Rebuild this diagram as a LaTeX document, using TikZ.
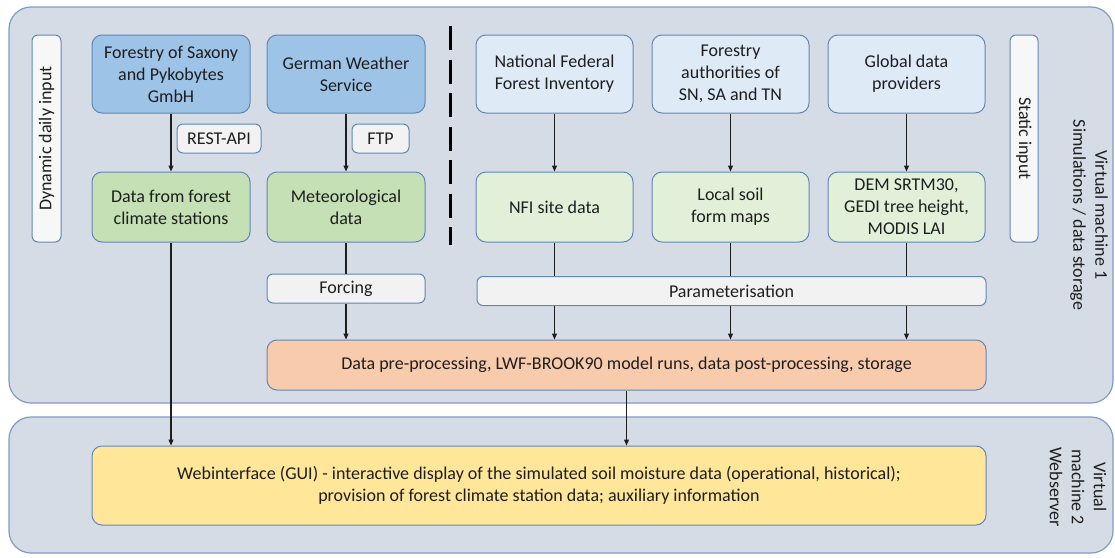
\documentclass[tikz,border=0pt]{standalone}
\usepackage{fontspec}
\setmainfont{Carlito}
\usetikzlibrary{arrows.meta}

\definecolor{panelfill}{HTML}{D6DCE5}
\definecolor{panelline}{HTML}{7F9DC4}
\definecolor{boxline}{HTML}{5F88B8}
\definecolor{bluefill}{HTML}{9DC3E6}
\definecolor{lbluefill}{HTML}{DEEBF7}
\definecolor{greenfill}{HTML}{C5E0B4}
\definecolor{lgreenfill}{HTML}{E2F0D9}
\definecolor{grayfill}{HTML}{F2F2F2}
\definecolor{orangefill}{HTML}{F8CBAD}
\definecolor{yellowfill}{HTML}{FFE699}
\definecolor{txt}{HTML}{1E1E1E}

\tikzset{
  every node/.style={font=\fontsize{18}{22}\selectfont, text=txt, inner sep=0pt, align=center},
  panel/.style={draw=panelline, fill=panelfill, line width=1.2pt, rounded corners=22pt},
  box/.style={draw=boxline, line width=1pt, rounded corners=10pt},
  tagbox/.style={box, fill=grayfill, rounded corners=6pt},
  sidebox/.style={box, fill=grayfill!60!white, rounded corners=6pt},
  arr/.style={line width=1.2pt, draw=txt, -{Triangle[length=6pt,width=5pt]}},
  plain/.style={line width=1.2pt, draw=txt},
}

\begin{document}
\begin{tikzpicture}[x=1pt,y=-1pt]
\useasboundingbox (0,0) rectangle (1115,557);

% machine panels
\node[panel, minimum width=1104, minimum height=396] (vm1) at (561,205) {};
\node[panel, minimum width=1104, minimum height=136] (vm2) at (561,485) {};
\node[rotate=-90] (vm1lab) at (1089,215) {Virtual machine 1\\Simulations / data storage};
\node[rotate=-90] (vm2lab) at (1078,487) {Virtual\\machine 2\\Webserver};

% side labels
\node[sidebox, rotate=90, minimum width=207, minimum height=29] (dyn) at (46.5,138.5) {Dynamic daily input};
\node[sidebox, rotate=-90, minimum width=207, minimum height=28] (static) at (1024,138.5) {Static input};

% separator between dynamic and static inputs
\coordinate (sepTop) at (450,26);
\coordinate (sepBot) at (450,245);
\draw[line width=3pt, dash pattern=on 24pt off 9.5pt] (sepTop) -- (sepBot);

% dynamic providers
\node[box, fill=bluefill, minimum width=158, minimum height=78] (fs) at (171,74) {Forestry of Saxony\\and Pykobytes\\GmbH};
\node[box, fill=bluefill, minimum width=158, minimum height=78] (dwd) at (346,74) {German Weather\\Service};
\node[box, fill=greenfill, minimum width=158, minimum height=70] (fcs) at (171,207) {Data from forest\\climate stations};
\node[box, fill=greenfill, minimum width=158, minimum height=70] (met) at (346,207) {Meteorological\\data};
\node[tagbox, minimum width=84, minimum height=29] (rest) at (219,138.5) {REST-API};
\node[tagbox, minimum width=57, minimum height=29] (ftp) at (380.5,138.5) {FTP};

% static providers
\node[box, fill=lbluefill, minimum width=157, minimum height=78] (nffi) at (554.5,74) {National Federal\\Forest Inventory};
\node[box, fill=lbluefill, minimum width=157, minimum height=78] (fauth) at (730.5,74) {Forestry\\authorities of\\SN, SA and TN};
\node[box, fill=lbluefill, minimum width=157, minimum height=78] (glob) at (906.5,74) {Global data\\providers};
\node[box, fill=lgreenfill, minimum width=157, minimum height=70] (nfi) at (554.5,207) {NFI site data};
\node[box, fill=lgreenfill, minimum width=157, minimum height=70] (soil) at (730.5,207) {Local soil\\form maps};
\node[box, fill=lgreenfill, minimum width=157, minimum height=70] (dem) at (906.5,207) {DEM SRTM30,\\GEDI tree height,\\MODIS LAI};

% model inputs and processing
\node[tagbox, minimum width=158, minimum height=29] (forc) at (346,288.5) {Forcing};
\node[tagbox, minimum width=509, minimum height=29] (param) at (731.5,291) {Parameterisation};
\node[box, fill=orangefill, minimum width=719, minimum height=50] (proc) at (626.5,365) {Data pre-processing, LWF-BROOK90 model runs, data post-processing, storage};
\node[box, fill=yellowfill, minimum width=894, minimum height=79] (gui) at (539,485.5) {Webinterface (GUI) - interactive display of the simulated soil moisture data (operational, historical);\\provision of forest climate station data; auxiliary information};

% connectors
\draw[arr] (fs) -- (fcs);
\draw[arr] (dwd) -- (met);
\draw[arr] (nffi) -- (nfi);
\draw[arr] (fauth) -- (soil);
\draw[arr] (glob) -- (dem);

\draw[plain] (met) -- (forc);
\draw[arr] (forc) -- (forc.south |- proc.north);
\foreach \n in {nfi,soil,dem}{
  \draw[plain] (\n.south) -- (\n.south |- param.north);
  \draw[arr] (\n.south |- param.south) -- (\n.south |- proc.north);
}
\draw[arr] (fcs) -- (fcs.south |- gui.north);
\draw[arr] (proc) -- (proc.south |- gui.north);
\end{tikzpicture}
\end{document}
